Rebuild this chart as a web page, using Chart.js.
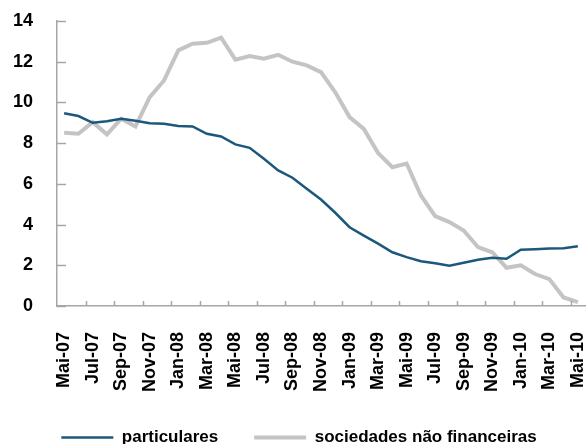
<!DOCTYPE html>
<html>
<head>
<meta charset="utf-8">
<script src="https://cdn.jsdelivr.net/npm/chart.js@4"></script>
<style>
  html, body { margin: 0; padding: 0; background: #fff; overflow: hidden; }
  #wrap { width: 588px; height: 444px; }
</style>
</head>
<body>
<div id="wrap"><canvas id="myChart" width="588" height="444"></canvas></div>
<script>
// months Mai-07 .. Mai-10
const months = ['Mai-07', 'Jun-07', 'Jul-07', 'Ago-07', 'Sep-07', 'Out-07', 'Nov-07', 'Dez-07',
    'Jan-08', 'Fev-08', 'Mar-08', 'Abr-08', 'Mai-08', 'Jun-08', 'Jul-08', 'Ago-08',
    'Sep-08', 'Out-08', 'Nov-08', 'Dez-08', 'Jan-09', 'Fev-09', 'Mar-09', 'Abr-09',
    'Mai-09', 'Jun-09', 'Jul-09', 'Ago-09', 'Sep-09', 'Out-09', 'Nov-09', 'Dez-09',
    'Jan-10', 'Fev-10', 'Mar-10', 'Abr-10', 'Mai-10'];

const particulares = [9.47, 9.33, 9.0, 9.08, 9.2, 9.1, 8.98, 8.95,
    8.84, 8.82, 8.46, 8.33, 7.94, 7.77, 7.23, 6.66,
    6.3, 5.76, 5.23, 4.58, 3.87, 3.46, 3.06, 2.64,
    2.4, 2.2, 2.1, 1.98, 2.12, 2.27, 2.37, 2.32,
    2.76, 2.79, 2.83, 2.84, 2.93];

const sociedades = [8.51, 8.46, 9.03, 8.43, 9.2, 8.82, 10.26, 11.08,
    12.56, 12.88, 12.93, 13.18, 12.1, 12.28, 12.15, 12.34,
    12.0, 11.82, 11.49, 10.5, 9.28, 8.7, 7.52, 6.82,
    7.0, 5.43, 4.42, 4.12, 3.71, 2.89, 2.64, 1.88,
    2.0, 1.57, 1.32, 0.42, 0.19];

const yTicks = [0, 2, 4, 6, 8, 10, 12, 14];

const FONT = "'Liberation Sans', Arial, sans-serif";
const AXIS = '#a6a6a6';

// small tick marks pointing into the plot area
const innerTicks = {
    id: 'innerTicks',
    afterDraw(chart) {
        const c = chart.ctx;
        const area = chart.chartArea;
        const x = chart.scales.x;
        const y = chart.scales.y;
        c.save();
        c.strokeStyle = AXIS;
        c.lineWidth = 1.5;
        c.beginPath();
        yTicks.forEach(function (v) {
            const py = Math.round(y.getPixelForValue(v)) + 0.5;
            c.moveTo(area.left, py);
            c.lineTo(area.left + 9, py);
        });
        const half = (x.getPixelForValue(1) - x.getPixelForValue(0)) / 2;
        for (let i = 2; i < months.length; i += 2) {
            const px = Math.round(x.getPixelForValue(i) - half) + 0.5;
            c.moveTo(px, area.bottom);
            c.lineTo(px, area.bottom - 5);
        }
        c.stroke();
        c.restore();
    }
};

function noPad(axis) {
    axis.paddingLeft = 0;
    axis.paddingRight = 0;
    axis.paddingTop = 0;
    axis.paddingBottom = 0;
}

const ctx = document.getElementById('myChart').getContext('2d');
const myChart = new Chart(ctx, {
    type: 'line',
    data: {
        labels: months,
        datasets: [{
            label: 'particulares',
            data: particulares,
            borderColor: '#1b587c',
            backgroundColor: '#1b587c',
            borderWidth: 2.5,
            pointRadius: 0,
            tension: 0
        }, {
            label: 'sociedades não financeiras',
            data: sociedades,
            borderColor: '#c4c4c4',
            backgroundColor: '#c4c4c4',
            borderWidth: 4,
            pointRadius: 0,
            tension: 0
        }]
    },
    options: {
        responsive: false,
        animation: false,
        layout: { padding: { left: 13, right: 3, top: 21, bottom: -12 } },
        plugins: {
            tooltip: { enabled: false },
            legend: {
                position: 'bottom',
                labels: {
                    usePointStyle: true,
                    pointStyle: 'line',
                    pointStyleWidth: 52,
                    boxHeight: 17,
                    padding: 36,
                    color: '#000',
                    font: { family: FONT, size: 17, weight: 'bold' }
                }
            }
        },
        scales: {
            x: {
                offset: true,
                afterFit: function (axis) {
                    noPad(axis);
                    axis.height = 87;
                },
                grid: { drawOnChartArea: false, drawTicks: false, offset: true },
                border: { color: AXIS, width: 1.5 },
                ticks: {
                    autoSkip: false,
                    minRotation: 90,
                    maxRotation: 90,
                    padding: 26,
                    color: '#000',
                    font: { family: FONT, size: 18, weight: 'bold' },
                    callback: function (value, index) {
                        return index % 2 === 0 ? months[index] : null;
                    }
                }
            },
            y: {
                min: 0,
                max: 14,
                afterFit: function (axis) {
                    noPad(axis);
                    axis.width = 44;
                },
                grid: { drawOnChartArea: false, drawTicks: false },
                border: { color: AXIS, width: 1.5 },
                afterBuildTicks: function (axis) {
                    axis.ticks = yTicks.map(function (v) { return { value: v }; });
                },
                ticks: {
                    padding: 24,
                    color: '#000',
                    font: { family: FONT, size: 18, weight: 'bold' }
                }
            }
        }
    },
    plugins: [innerTicks]
});
</script>
</body>
</html>
